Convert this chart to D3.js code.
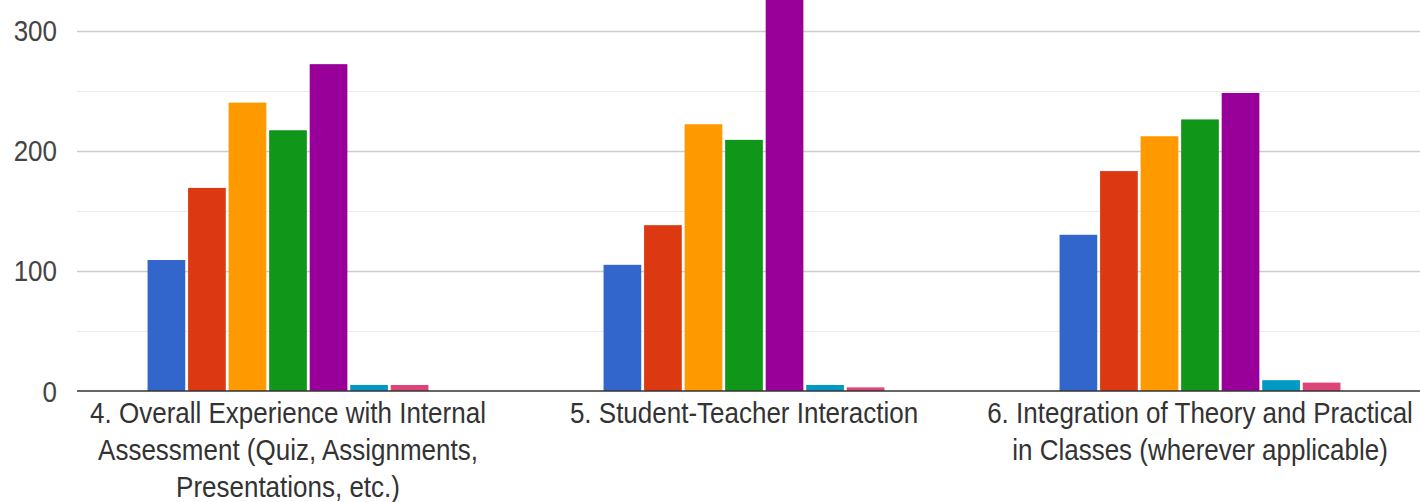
<!DOCTYPE html>
<html>
<head>
<meta charset="utf-8">
<script src="https://cdn.jsdelivr.net/npm/d3@7"></script>
<style>
  html, body { margin: 0; padding: 0; background: #fff; }
  svg { display: block; }
</style>
</head>
<body>
<svg id="chart" width="1420" height="502"></svg>
<script>
const categories = [
  "4. Overall Experience with Internal\nAssessment (Quiz, Assignments,\nPresentations, etc.)",
  "5. Student-Teacher Interaction",
  "6. Integration of Theory and Practical\nin Classes (wherever applicable)"
];
const seriesNames = ["S1", "S2", "S3", "S4", "S5", "S6", "S7"];
const seriesColors = ["#3366cc", "#dc3912", "#ff9900", "#109618", "#990099", "#0099c6", "#dd4477"];
const s1 = [109, 105, 130];
const s2 = [169, 138, 183];
const s3 = [240, 222, 212];
const s4 = [217, 209, 226];
const s5 = [272, 345, 248];
const s6 = [5, 5, 9];
const s7 = [5, 3, 7];
const seriesValues = [s1, s2, s3, s4, s5, s6, s7];
const yTicks = [0, 100, 200, 300];
const yGrid = [0, 50, 100, 150, 200, 250, 300];

const svg = d3.select("#chart");
const plotLeft = 77, plotRight = 1420;
const FONT = "'Liberation Sans', Arial, sans-serif";

const x0 = d3.scaleBand().domain(categories).range([60, 1428])
  .paddingInner(0.384).paddingOuter(0.192);
const x1 = d3.scaleBand().domain(seriesNames).range([0, x0.bandwidth()]).paddingInner(0.07);
const y = d3.scaleLinear().domain([0, 300]).range([391, 30.5]);

// gridlines
svg.append("g").selectAll("line").data(yGrid.filter(v => v !== 0)).join("line")
  .attr("x1", plotLeft).attr("x2", plotRight)
  .attr("y1", d => Math.round(y(d)) + 0.5).attr("y2", d => Math.round(y(d)) + 0.5)
  .attr("stroke", d => d % 100 === 0 ? "#cccccc" : "#ebebeb")
  .attr("stroke-width", d => d % 100 === 0 ? 1.5 : 1);

// bars
const groups = svg.append("g").selectAll("g").data(categories).join("g")
  .attr("transform", d => `translate(${x0(d)},0)`);
groups.selectAll("rect")
  .data((d, i) => seriesNames.map((s, j) => ({ s, v: seriesValues[j][i], c: seriesColors[j] })))
  .join("rect")
  .attr("x", d => x1(d.s))
  .attr("width", x1.bandwidth())
  .attr("y", d => y(d.v))
  .attr("height", d => y(0) - y(d.v))
  .attr("fill", d => d.c);

// baseline
svg.append("line").attr("x1", plotLeft).attr("x2", plotRight)
  .attr("y1", y(0)).attr("y2", y(0))
  .attr("stroke", "#333333").attr("stroke-width", 1.5);

// y axis labels
const yAxis = d3.axisLeft(y).tickValues(yTicks).tickSize(0).tickPadding(0);
const ya = svg.append("g").attr("transform", "translate(57,0)").call(yAxis);
ya.select(".domain").remove();
ya.selectAll("text")
  .attr("font-family", FONT)
  .attr("font-size", 26)
  .attr("fill", "#444444")
  .attr("dy", null)
  .attr("y", 0)
  .attr("transform", "translate(0,10) scale(1,1.12)");

// category labels
const xl = svg.append("g");
categories.forEach(cat => {
  const cx = x0(cat) + x0.bandwidth() / 2;
  cat.split("\n").forEach((ln, k) => {
    xl.append("text")
      .attr("transform", `translate(${cx},${423 + k * 37}) scale(1,1.12)`)
      .attr("text-anchor", "middle")
      .attr("font-family", FONT)
      .attr("font-size", 26)
      .attr("fill", "#333333")
      .text(ln);
  });
});
</script>
</body>
</html>
